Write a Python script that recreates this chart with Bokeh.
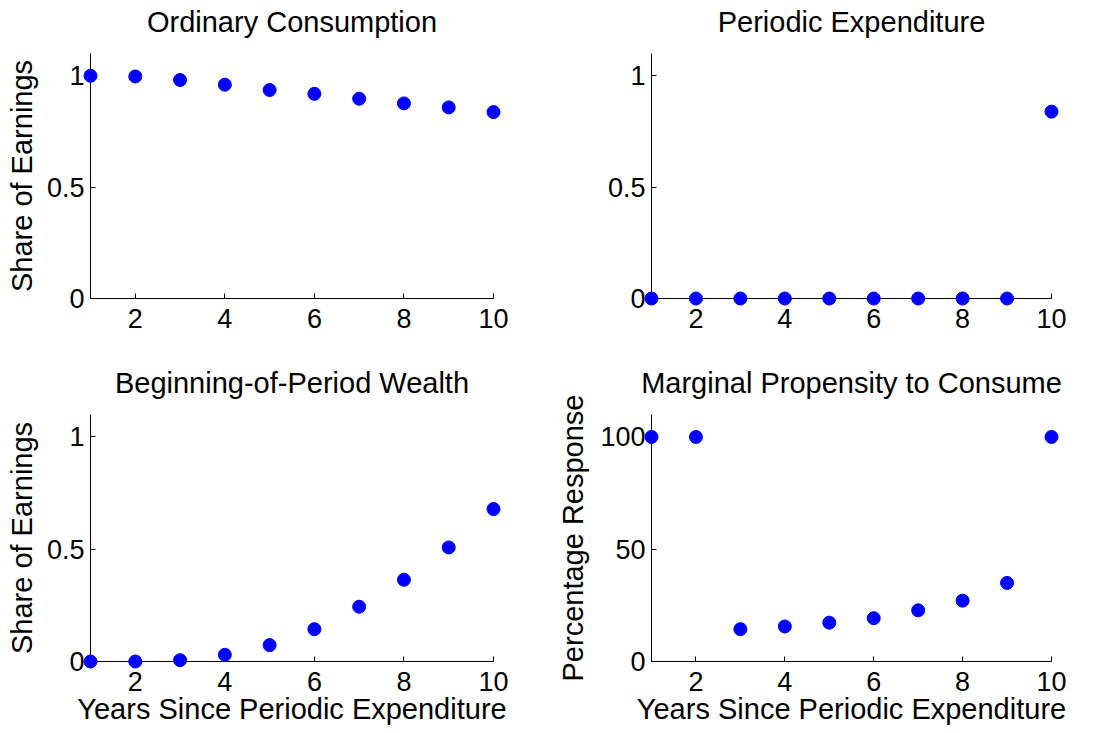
from bokeh.plotting import figure
from bokeh.layouts import column, row
from bokeh.models import FixedTicker, Range1d
from bokeh.core.properties import value
from bokeh.embed import file_html
from bokeh.resources import INLINE

years = [1, 2, 3, 4, 5, 6, 7, 8, 9, 10]
ordinary_consumption = [1.0, 0.997, 0.981, 0.960, 0.936, 0.919, 0.897, 0.876, 0.858, 0.837]
periodic_expenditure = [0, 0, 0, 0, 0, 0, 0, 0, 0, 0.839]
beginning_wealth = [0.0, 0.0, 0.006, 0.03, 0.073, 0.144, 0.244, 0.364, 0.508, 0.679]
mpc = [100, 100, 14.4, 15.6, 17.3, 19.3, 22.8, 27.1, 35.0, 100]

titles = ["Ordinary Consumption", "Periodic Expenditure",
          "Beginning-of-Period Wealth", "Marginal Propensity to Consume"]
x_ticks = [2, 4, 6, 8, 10]
share_ticks = [0, 0.5, 1]
share_labels = {0: "0", 0.5: "0.5", 1: "1"}
pct_ticks = [0, 50, 100]
x_min, x_max = 1, 10

FONT = "Liberation Sans"
TEXT_SIZE = "29px"
TICK_SIZE = "27px"
BLUE = "#0000ff"
TITLE_GAP_PX = 32  # title distance above the plot frame


def make_panel(title, yvals, ymax, yticks, ylabel, xlabel, width, height,
               bl, br, bt, bb, ylabels=None, ylab_standoff=4):
    p = figure(width=width, height=height, output_backend="svg",
               toolbar_location=None, x_range=Range1d(x_min, x_max),
               y_range=Range1d(0, ymax),
               min_border_left=bl, min_border_right=br,
               min_border_top=bt, min_border_bottom=bb,
               background_fill_color="white", border_fill_color="white")
    p.outline_line_color = None
    p.grid.visible = False

    # title: centred text just above the frame, drawn unclipped
    frame_h = height - bt - bb
    title_y = ymax + TITLE_GAP_PX * ymax / frame_h
    t = p.text(x=[(x_min + x_max) / 2], y=[title_y], text=[title],
               text_align="center", text_baseline="alphabetic",
               text_font=value(FONT), text_font_size=value(TEXT_SIZE),
               text_color="black")
    t.level = "overlay"

    r = p.scatter(years, yvals, size=13, fill_color=BLUE, line_color=BLUE)
    r.level = "overlay"

    for ax in (p.xaxis[0], p.yaxis[0]):
        ax.axis_line_color = "black"
        ax.axis_line_width = 1
        ax.major_tick_line_color = "black"
        ax.major_tick_in = 5
        ax.major_tick_out = 0
        ax.minor_tick_line_color = None
        ax.major_label_text_font = FONT
        ax.major_label_text_font_size = TICK_SIZE
        ax.major_label_text_color = "black"
        ax.axis_label_text_font = FONT
        ax.axis_label_text_font_size = TEXT_SIZE
        ax.axis_label_text_font_style = "normal"
        ax.axis_label_text_color = "black"

    p.xaxis.ticker = FixedTicker(ticks=x_ticks)
    p.yaxis.ticker = FixedTicker(ticks=yticks)
    if ylabels:
        p.yaxis.major_label_overrides = ylabels
    p.xaxis.major_label_standoff = 10
    p.yaxis.major_label_standoff = 6
    if xlabel:
        p.xaxis.axis_label = xlabel
        p.xaxis.axis_label_standoff = -1
    if ylabel:
        p.yaxis.axis_label = ylabel
        p.yaxis.axis_label_standoff = ylab_standoff
    return p


p1 = make_panel(titles[0], ordinary_consumption, 1.1, share_ticks,
                "Share of Earnings", None, 553, 366, 90, 60, 53, 68,
                share_labels, 6)
p2 = make_panel(titles[1], periodic_expenditure, 1.1, share_ticks,
                None, None, 553, 366, 98, 55, 53, 68, share_labels)
p3 = make_panel(titles[2], beginning_wealth, 1.1, share_ticks,
                "Share of Earnings", "Years Since Periodic Expenditure",
                553, 367, 90, 60, 48, 72, share_labels, 6)
p4 = make_panel(titles[3], mpc, 110, pct_ticks,
                "Percentage Response", "Years Since Periodic Expenditure",
                553, 367, 98, 55, 48, 72, None, 8)

layout = column(row(p1, p2), row(p3, p4))
open("out.html", "w").write(file_html(layout, INLINE))
